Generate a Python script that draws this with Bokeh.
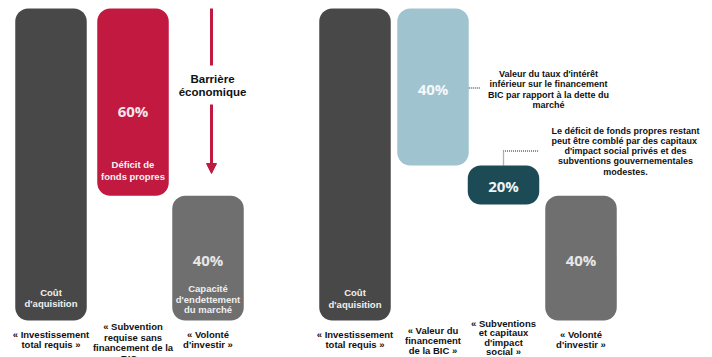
from bokeh.plotting import figure
from bokeh.models import ColumnDataSource, Range1d, Arrow, NormalHead
from bokeh.core.properties import value
from bokeh.embed import file_html
from bokeh.resources import INLINE

# ---------------- data ----------------
left_categories = ["« Investissement\ntotal requis »",
                   "« Subvention\nrequise sans\nfinancement de la\nBIC »",
                   "« Volonté\nd'investir »"]
left_values = [100, 60, 40]
left_inner = ["Coût\nd'aquisition", "Déficit de\nfonds propres", "Capacité\nd'endettement\ndu marché"]

right_categories = ["« Investissement\ntotal requis »",
                    "« Valeur du\nfinancement\nde la BIC »",
                    "« Subventions\net capitaux\nd'impact\nsocial »",
                    "« Volonté\nd'investir »"]
right_values = [100, 40, 20, 40]
right_inner = ["Coût\nd'aquisition", "", "", ""]
# the right-hand diagram is not drawn to scale: extents
right_bottoms = [0, 49.7, 37.2, 0]
right_tops = [100, 100, 49.7, 40]

barrier_label = "Barrière\néconomique"
note_bic = "Valeur du taux d'intérêt\ninférieur sur le financement\nBIC par rapport à la dette du\nmarché"
note_gap = ("Le déficit de fonds propres restant\npeut  être comblé par des capitaux\n"
            "d'impact social privés et des\nsubventions gouvernementales\nmodestes.")

# ---------------- layout ----------------
W, H = 712, 357
PX_ZERO, PX_FULL = 320.0, 8.0


def yv(py):
    return (PX_ZERO - py) * 100.0 / (PX_ZERO - PX_FULL)


left_x = [50.5, 132.5, 207.5]
right_x = [354.5, 432.5, 503.0, 580.5]
bar_w = 71.5
left_colors = ["#484848", "#c1193f", "#6f6f6f"]
right_colors = ["#484848", "#9fc4d0", "#1c4a55", "#6f6f6f"]

# waterfall for the left panel
left_bottoms = [0, left_values[0] - left_values[1], 0]
left_tops = [left_values[0], left_values[0], left_values[2]]

p = figure(width=W, height=H, output_backend="svg", toolbar_location=None,
           x_range=Range1d(0, W), y_range=Range1d(yv(H), yv(0)),
           x_axis_location=None, y_axis_location=None, min_border=0,
           background_fill_color="white", border_fill_color="white")
p.outline_line_color = None
p.grid.visible = False

xs = left_x + right_x
bots = left_bottoms + right_bottoms
tops = left_tops + right_tops
cols = left_colors + right_colors
src = ColumnDataSource(dict(left=[x - bar_w / 2 for x in xs], right=[x + bar_w / 2 for x in xs],
                            bottom=bots, top=tops, color=cols))
p.quad(left="left", right="right", bottom="bottom", top="top", source=src,
       fill_color="color", line_color=None, border_radius=13)

# ---------------- texts ----------------
T = dict(x=[], y=[], text=[], size=[], color=[])
P = dict(x=[], y=[], text=[], color=[])


def add_lines(txt, x, y0, step, size, color):
    for i, line in enumerate(txt.split("\n")):
        T["x"].append(x)
        T["y"].append(yv(y0 + i * step))
        T["text"].append(line)
        T["size"].append(size)
        T["color"].append(color)


# category labels below bars
add_lines(left_categories[0], left_x[0], 333.5, 10.8, "9.5px", "#111111")
add_lines(left_categories[1], left_x[1], 326.0, 10.6, "9.5px", "#111111")
add_lines(left_categories[2], left_x[2], 333.5, 10.8, "9.5px", "#111111")
add_lines(right_categories[0], right_x[0], 333.5, 10.8, "9.5px", "#111111")
add_lines(right_categories[1], right_x[1], 329.5, 10.3, "9.5px", "#111111")
add_lines(right_categories[2], right_x[2], 322.5, 9.6, "9.5px", "#111111")
add_lines(right_categories[3], right_x[3], 333.5, 10.8, "9.5px", "#111111")

# labels inside bars
add_lines(left_inner[0], left_x[0], 291.5, 11.5, "9.5px", "#f0f0f0")
add_lines(left_inner[1], left_x[1], 163.5, 12.0, "9.5px", "#f5f5f5")
add_lines(left_inner[2], left_x[2], 288.0, 10.6, "9.5px", "#eeeeee")
add_lines(right_inner[0], right_x[0], 292.0, 11.5, "9.5px", "#f0f0f0")

# notes
add_lines(barrier_label, 212, 78.5, 13.0, "11.5px", "#111111")
add_lines(note_bic, 548, 73.5, 10.4, "9px", "#111111")
add_lines(note_gap, 625, 130.0, 10.3, "9px", "#111111")

# percentages
pct_y = [None, 110, 259, None, 88, 185, 259]
vals = left_values + right_values
pct_col = [None, "#f4e6e9", "#e6e6e6", None, "#f4f8f9", "#eef3f4", "#e6e6e6"]
for x, v, py, c in zip(xs, vals, pct_y, pct_col):
    if py is None:
        continue
    P["x"].append(x)
    P["y"].append(yv(py))
    P["text"].append(f"{v}%")
    P["color"].append(c)

p.text(x="x", y="y", text="text", source=ColumnDataSource(T), text_font=value("Liberation Sans"),
       text_font_style="bold", text_font_size="size", text_color="color",
       text_align="center", text_baseline="middle", text_line_height=1.0)
p.text(x="x", y="y", text="text", source=ColumnDataSource(P), text_font=value("Open Sans"),
       text_font_style="bold", text_font_size="15px", text_color="color",
       text_align="center", text_baseline="middle")

# ---------------- barrier arrow ----------------
red = "#c1193f"
p.segment(x0=[211], y0=[yv(8)], x1=[211], y1=[yv(65)], line_color=red, line_width=3)
p.add_layout(Arrow(end=NormalHead(size=10, fill_color=red, line_color=red),
                   x_start=211, y_start=yv(104), x_end=211, y_end=yv(173),
                   line_color=red, line_width=3))

# ---------------- dotted connectors ----------------
p.line(x=[right_x[1] + bar_w / 2, 480], y=[yv(87.5), yv(87.5)], line_color="#666666",
       line_width=1.3, line_dash="1 1")
p.line(x=[right_x[2], right_x[2], 538], y=[right_tops[2], yv(150.5), yv(150.5)],
       line_color="#666666", line_width=1.3, line_dash="1 1")

open("out.html", "w").write(file_html(p, INLINE))
